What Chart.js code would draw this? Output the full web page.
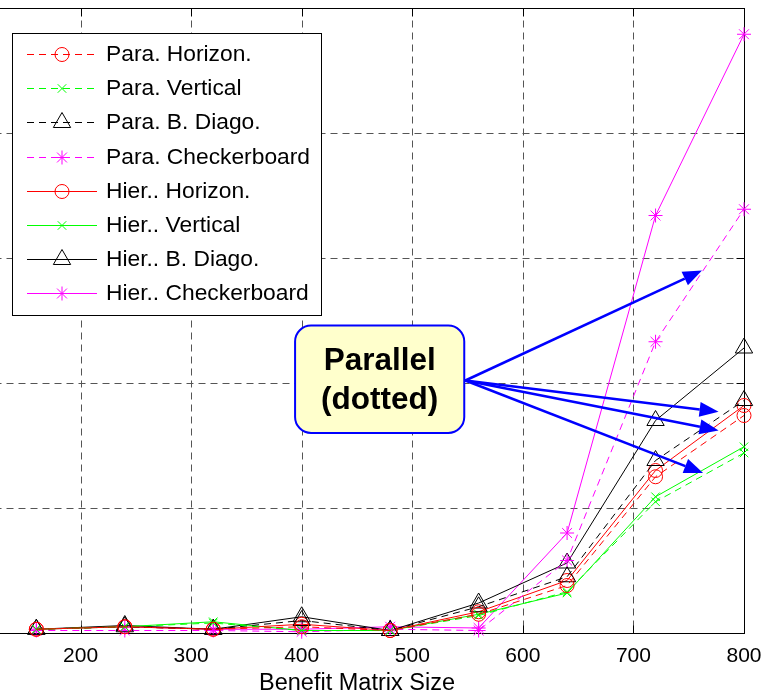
<!DOCTYPE html>
<html>
<head>
<meta charset="utf-8">
<title>Benefit Matrix Size</title>
<script src="https://cdn.jsdelivr.net/npm/chart.js"></script>
<style>
  html, body { margin: 0; padding: 0; background: #fff; overflow: hidden; }
  /* the source figure is cropped on the left, through the y axis */
  canvas { display: block; margin-left: -30px; }
</style>
</head>
<body>
<canvas id="chart" width="793" height="696"></canvas>
<script>
// benefit matrix sizes along the x axis
const sizes = [160, 240, 320, 400, 480, 560, 640, 720, 800];
const xTicks = [100, 200, 300, 400, 500, 600, 700, 800];
// y tick labels are cut off in the source, so y is in grid units
const yTicks = [0, 1, 2, 3, 4, 5];

const paraHorizon  = [0.03, 0.05, 0.03, 0.05, 0.02, 0.15, 0.38, 1.25, 1.74];
const paraVertical = [0.03, 0.05, 0.08, 0.02, 0.02, 0.14, 0.33, 1.05, 1.44];
const paraDiago    = [0.03, 0.05, 0.03, 0.10, 0.02, 0.21, 0.45, 1.38, 1.86];
const paraChecker  = [0.02, 0.02, 0.02, 0.01, 0.03, 0.02, 0.58, 2.33, 3.39];
const hierHorizon  = [0.03, 0.05, 0.03, 0.07, 0.02, 0.17, 0.42, 1.30, 1.82];
const hierVertical = [0.03, 0.05, 0.09, 0.02, 0.02, 0.15, 0.32, 1.09, 1.49];
const hierDiago    = [0.03, 0.06, 0.03, 0.13, 0.02, 0.24, 0.56, 1.70, 2.28];
const hierChecker  = [0.03, 0.05, 0.03, 0.03, 0.05, 0.04, 0.80, 3.34, 4.79];

const seriesLabels = [
    'Para. Horizon.', 'Para. Vertical', 'Para. B. Diago.', 'Para. Checkerboard',
    'Hier.. Horizon.', 'Hier.. Vertical', 'Hier.. B. Diago.', 'Hier.. Checkerboard'
];

// callout box and arrows, in data units
const calloutText = ['Parallel', '(dotted)'];
const calloutBox = [394, 2.46, 547, 1.60];
const arrowFrom = [548, 2.02];
const arrowTo = [[762, 2.90], [777, 1.77], [777, 1.62], [763, 1.28]];

const FONT = "'Liberation Sans', Arial, sans-serif";
const DASH = [7, 5];

const series = (label, values, color, dashed, marker, radius) => ({
    label,
    data: sizes.map((s, i) => ({ x: s, y: values[i] })),
    borderColor: color,
    backgroundColor: 'transparent',
    borderWidth: 1,
    borderDash: dashed ? DASH : [],
    pointStyle: marker,
    pointRadius: radius,
    pointBorderColor: color,
    pointBackgroundColor: 'transparent',
    pointBorderWidth: 1,
    tension: 0,
    clip: false
});

const datasets = [
    series(seriesLabels[0], paraHorizon,  '#ff0000', true,  'circle',   7),
    series(seriesLabels[1], paraVertical, '#00ff00', true,  'crossRot', 6),
    series(seriesLabels[2], paraDiago,    '#000000', true,  'triangle', 10),
    series(seriesLabels[3], paraChecker,  '#ff00ff', true,  'star',     7),
    series(seriesLabels[4], hierHorizon,  '#ff0000', false, 'circle',   7),
    series(seriesLabels[5], hierVertical, '#00ff00', false, 'crossRot', 6),
    series(seriesLabels[6], hierDiago,    '#000000', false, 'triangle', 10),
    series(seriesLabels[7], hierChecker,  '#ff00ff', false, 'star',     7)
];

// dashed grid, inward ticks and the axes box
const gridPlugin = {
    id: 'matlabGrid',
    beforeDatasetsDraw(chart) {
        const { ctx, chartArea: a, scales: { x, y } } = chart;
        const line = (x1, y1, x2, y2) => {
            ctx.beginPath(); ctx.moveTo(x1, y1); ctx.lineTo(x2, y2); ctx.stroke();
        };
        const left = Math.round(a.left) + 0.5, top = Math.round(a.top) + 0.5;
        const right = Math.round(a.right) + 0.5, bottom = Math.round(a.bottom) + 0.5;
        ctx.save();
        ctx.lineWidth = 1;
        ctx.strokeStyle = '#555';
        ctx.setLineDash(DASH);
        xTicks.slice(1, -1).forEach(v => {
            const px = Math.round(x.getPixelForValue(v)) + 0.5;
            line(px, top, px, bottom);
        });
        yTicks.slice(1, -1).forEach(v => {
            const py = Math.round(y.getPixelForValue(v)) + 0.5;
            line(left, py, right, py);
        });
        ctx.setLineDash([]);
        ctx.strokeStyle = '#000';
        const t = 8;
        xTicks.forEach(v => {
            const px = Math.round(x.getPixelForValue(v)) + 0.5;
            line(px, bottom, px, bottom - t);
            line(px, top, px, top + t);
        });
        yTicks.forEach(v => {
            const py = Math.round(y.getPixelForValue(v)) + 0.5;
            line(left, py, left + t, py);
            line(right, py, right - t, py);
        });
        ctx.strokeRect(left, top, right - left, bottom - top);
        ctx.restore();
    }
};

// "Parallel (dotted)" callout with blue arrows
const calloutPlugin = {
    id: 'callout',
    afterDatasetsDraw(chart) {
        const { ctx, scales: { x, y } } = chart;
        const x1 = x.getPixelForValue(calloutBox[0]), y1 = y.getPixelForValue(calloutBox[1]);
        const x2 = x.getPixelForValue(calloutBox[2]), y2 = y.getPixelForValue(calloutBox[3]);
        const sx = x.getPixelForValue(arrowFrom[0]), sy = y.getPixelForValue(arrowFrom[1]);
        ctx.save();
        ctx.strokeStyle = '#0000ff';
        ctx.fillStyle = '#0000ff';
        ctx.lineWidth = 2.5;
        arrowTo.forEach(([dx, dy]) => {
            const ex = x.getPixelForValue(dx), ey = y.getPixelForValue(dy);
            const ang = Math.atan2(ey - sy, ex - sx);
            const len = 19, half = 7.5;
            const bx = ex - Math.cos(ang) * len, by = ey - Math.sin(ang) * len;
            ctx.beginPath(); ctx.moveTo(sx, sy); ctx.lineTo(bx, by); ctx.stroke();
            ctx.beginPath();
            ctx.moveTo(ex, ey);
            ctx.lineTo(bx + Math.sin(ang) * half, by - Math.cos(ang) * half);
            ctx.lineTo(bx - Math.sin(ang) * half, by + Math.cos(ang) * half);
            ctx.closePath(); ctx.fill();
        });
        ctx.beginPath();
        ctx.roundRect(x1, y1, x2 - x1, y2 - y1, 16);
        ctx.fillStyle = '#ffffcc';
        ctx.fill();
        ctx.lineWidth = 2;
        ctx.stroke();
        ctx.fillStyle = '#000';
        ctx.font = 'bold 31.5px ' + FONT;
        ctx.textAlign = 'center';
        ctx.textBaseline = 'middle';
        const cx = (x1 + x2) / 2, cy = (y1 + y2) / 2;
        ctx.fillText(calloutText[0], cx, cy - 18);
        ctx.fillText(calloutText[1], cx, cy + 21);
        ctx.restore();
    }
};

// boxed legend in the upper left corner
const legendPlugin = {
    id: 'boxLegend',
    afterDraw(chart) {
        const { ctx } = chart;
        const left = 42.5, top = 33.5, w = 309, h = 282;
        const rowY = 54, rowStep = 34.2;
        ctx.save();
        ctx.fillStyle = '#fff';
        ctx.fillRect(left, top, w, h);
        ctx.strokeStyle = '#000';
        ctx.lineWidth = 1;
        ctx.strokeRect(left, top, w, h);
        ctx.font = '22.8px ' + FONT;
        ctx.textBaseline = 'middle';
        chart.data.datasets.forEach((ds, i) => {
            const yy = Math.round(rowY + i * rowStep) + 0.5;
            ctx.strokeStyle = ds.borderColor;
            ctx.lineWidth = 1;
            ctx.setLineDash(ds.borderDash);
            ctx.beginPath(); ctx.moveTo(57, yy); ctx.lineTo(127, yy); ctx.stroke();
            ctx.setLineDash([]);
            ctx.fillStyle = 'transparent';
            Chart.helpers.drawPoint(ctx, {
                pointStyle: ds.pointStyle, radius: ds.pointRadius, rotation: 0, borderWidth: 1
            }, 92, yy);
            ctx.fillStyle = '#000';
            ctx.fillText(ds.label, 136, yy);
        });
        ctx.restore();
    }
};

new Chart(document.getElementById('chart'), {
    type: 'line',
    data: { datasets },
    options: {
        responsive: false,
        animation: false,
        layout: { autoPadding: false, padding: { left: 0, right: 19, top: 8, bottom: 0 } },
        plugins: { legend: { display: false }, tooltip: { enabled: false } },
        scales: {
            x: {
                type: 'linear',
                min: 100,
                max: 800,
                afterBuildTicks: axis => { axis.ticks = xTicks.slice(1).map(v => ({ value: v })); },
                afterFit: axis => { axis.paddingLeft = 0; axis.paddingRight = 0; axis.height = 63; },
                grid: { display: false, drawTicks: false },
                border: { display: false },
                ticks: { color: '#000', font: { family: FONT, size: 21 }, padding: 11, maxRotation: 0 },
                title: {
                    display: true, text: 'Benefit Matrix Size', color: '#000',
                    font: { family: FONT, size: 23.5, lineHeight: 1.1 }, padding: { top: 2, bottom: 0 }
                }
            },
            y: { display: false, min: 0, max: 5 }
        }
    },
    plugins: [gridPlugin, calloutPlugin, legendPlugin]
});
</script>
</body>
</html>
